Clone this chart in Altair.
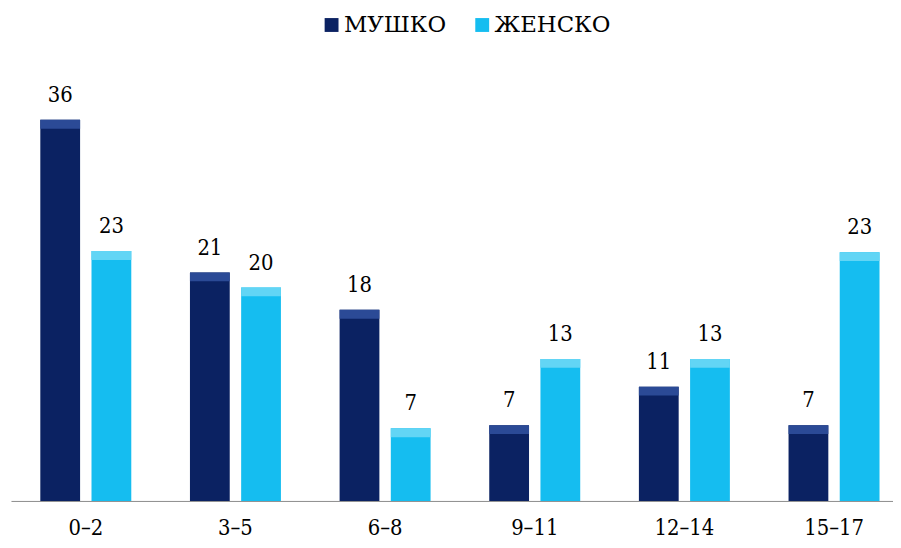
import altair as alt
import pandas as pd

groups = ["0–2", "3–5", "6–8", "9–11", "12–14", "15–17"]
series = ["МУШКО", "ЖЕНСКО"]
male = [35.7, 21.4, 17.9, 7.1, 10.7, 7.1]
female = [23.4, 20.0, 6.8, 13.3, 13.3, 23.3]
colors = ["#0b2262", "#15bdf0"]
bevel_colors = ["#2b4a96", "#62d5f5"]

rows = []
for g, m, f in zip(groups, male, female):
    rows.append({"group": g, "sex": series[0], "value": m})
    rows.append({"group": g, "sex": series[1], "value": f})
df = pd.DataFrame(rows)

FONT_AXIS = "DejaVu Serif Condensed"
FONT_TEXT = "DejaVu Serif Condensed"
FONT_LEG = "DejaVu Serif"
FS = 22

x = alt.X(
    "group:N", sort=groups,
    scale=alt.Scale(range=[0, 906], paddingInner=0, paddingOuter=0, round=False),
    axis=alt.Axis(title=None, labelAngle=0, ticks=False, tickSize=0, labelPadding=34,
                  labelBaseline="alphabetic", labelFontSize=FS, labelFont=FONT_AXIS,
                  labelColor="#000000", domainColor="#8c8c8c", domainWidth=1),
)
xo = alt.XOffset("sex:N", sort=series,
                 scale=alt.Scale(domain=series, paddingInner=0.223, paddingOuter=0.573))
y = alt.Y("value:Q", scale=alt.Scale(domain=[0, 40]), axis=None)

color = alt.Color(
    "sex:N", sort=series,
    scale=alt.Scale(domain=series, range=colors),
    legend=alt.Legend(title=None, orient="none", legendX=312, legendY=-61,
                      direction="horizontal", symbolType="square", symbolSize=196,
                      symbolStrokeWidth=0, symbolOpacity=1, labelFont=FONT_LEG,
                      labelFontSize=23, labelColor="#000000", labelOffset=1,
                      columnPadding=24),
)

base = alt.Chart(df)

bars = base.mark_bar().encode(x=x, xOffset=xo, y=y, color=color)

bevel = base.mark_bar(y2Offset=9).encode(
    x=x, xOffset=xo, y=y, y2=alt.Y2("value:Q"),
    color=alt.Color("sex:N", scale=alt.Scale(domain=series, range=bevel_colors), legend=None),
)

labels = base.mark_text(dy=-18, baseline="alphabetic", font=FONT_TEXT, fontSize=FS,
                        color="#000000").encode(
    x=x, xOffset=xo, y=y, text=alt.Text("value:Q", format=".0f"))

chart = (
    alt.layer(bars, bevel, labels)
    .resolve_scale(color="independent")
    .properties(width=890, height=431,
                padding={"left": 3, "top": 64, "right": 0, "bottom": 37},
                autosize=alt.AutoSizeParams(type="none"),
                background="white")
    .configure_view(stroke=None)
)

chart.save("out.html", embed_options={"renderer": "svg", "actions": False})
